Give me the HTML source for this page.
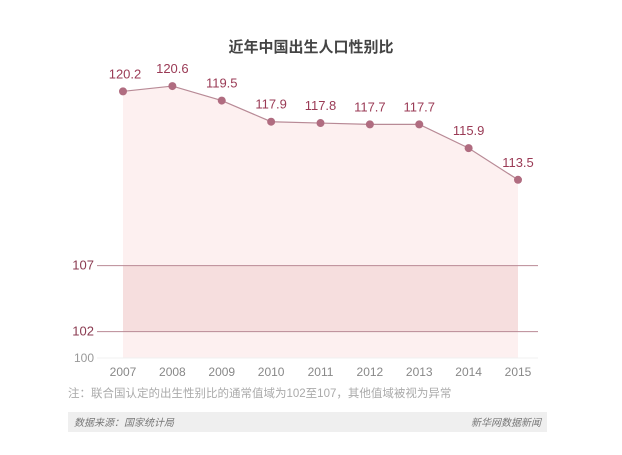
<!DOCTYPE html>
<html><head><meta charset="utf-8"><style>
body{margin:0;background:#fff;width:622px;height:450px;overflow:hidden;font-family:"Liberation Sans","Noto Sans CJK SC",sans-serif;}
</style></head><body>
<svg id="chart" width="622" height="450" xmlns="http://www.w3.org/2000/svg" font-family="Liberation Sans, Noto Sans CJK SC, sans-serif">
<text x="311" y="52" text-anchor="middle" font-size="15" font-weight="bold" fill="#444">近年中国出生人口性别比</text>
<g id="plot"></g>
<text x="68" y="397" font-size="11.5" fill="#aaa">注：联合国认定的出生性别比的通常值域为102至107，其他值域被视为异常</text>
<rect x="68" y="412" width="479" height="20" fill="#efefef"/>
<text x="74" y="426" font-size="10" font-style="italic" fill="#777">数据来源：国家统计局</text>
<text x="541" y="426" text-anchor="end" font-size="10" font-style="italic" fill="#777">新华网数据新闻</text>
</svg>
<script>
const years=["2007","2008","2009","2010","2011","2012","2013","2014","2015"];
const ratios=[120.2,120.6,119.5,117.9,117.8,117.7,117.7,115.9,113.5];
const refLines=[107,102];
const NS="http://www.w3.org/2000/svg";
const g=document.getElementById('plot');
const x0=123,x1=518;
function xs(i){return x0+(x1-x0)*i/(years.length-1);}
function ys(v){return 358-(v-100)*13.2;}
function mk(t,a,p){const e=document.createElementNS(NS,t);for(const k in a)e.setAttribute(k,a[k]);(p||g).appendChild(e);return e;}
let d="M"+xs(0)+","+ys(100);
ratios.forEach((v,i)=>{d+=" L"+xs(i)+","+ys(v);});
d+=" L"+xs(ratios.length-1)+","+ys(100)+" Z";
const area=mk('path',{d:d,fill:'#fdf0f0'});


const band=mk('rect',{x:xs(0),y:ys(refLines[0]),width:xs(ratios.length-1)-xs(0),height:ys(refLines[1])-ys(refLines[0]),fill:'#f6dede'});


const base=mk('line',{x1:97,x2:538,y1:ys(100),y2:ys(100),stroke:'#f0f0f0'});


const yl=mk('text',{x:94,y:ys(100)+4,'text-anchor':'end','font-size':12,fill:'#999'});
yl.textContent='100';


refLines.forEach(v=>{
  const l=mk('line',{x1:97,x2:538,y1:ys(v),y2:ys(v),stroke:'#b98a95','stroke-width':1});
  
  
  const t=mk('text',{x:94,y:ys(v)+4,'text-anchor':'end','font-size':13,fill:'#8a3a50'});
  t.textContent=v;
  
  
});
const pts=ratios.map((v,i)=>xs(i)+","+ys(v)).join(" ");
const line=mk('polyline',{points:pts,fill:'none',stroke:'#b88a96','stroke-width':1.2});


ratios.forEach((v,i)=>{
  const c=mk('circle',{cx:xs(i),cy:ys(v),r:4,fill:'#b06c80'});
  
  
  const t=mk('text',{x:xs(i)+(i==0?2:0),y:ys(v)-13,'text-anchor':'middle','font-size':13,fill:'#9a3a55'});
  t.textContent=v.toFixed(1);
  
  
  const yt=mk('text',{x:xs(i),y:376,'text-anchor':'middle','font-size':12,fill:'#888'});
  yt.textContent=years[i];
  
  
});
</script>
</body></html>
